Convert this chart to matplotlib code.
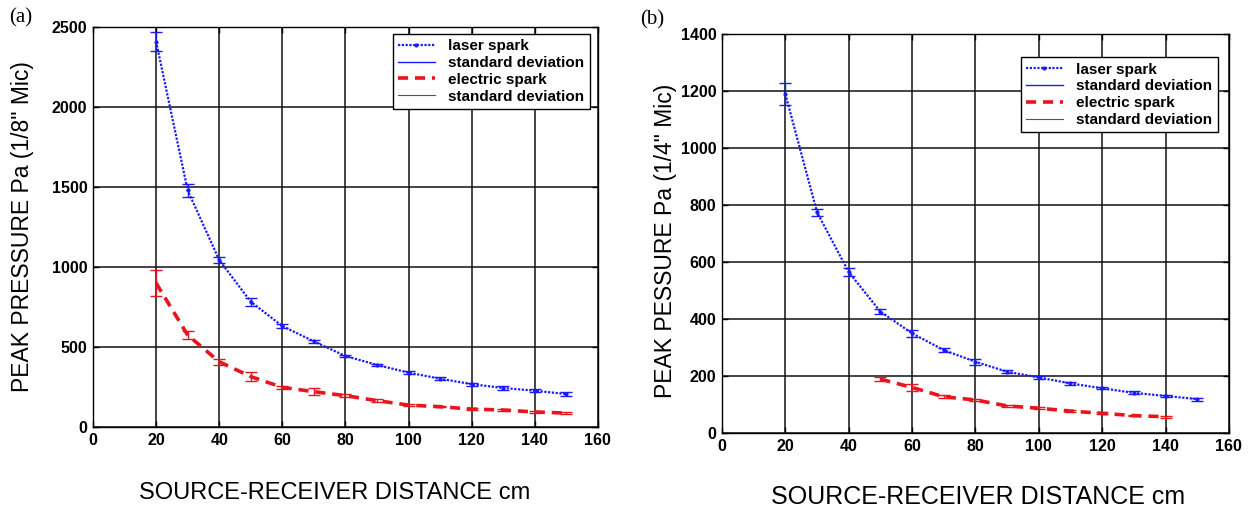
import matplotlib
matplotlib.use("Agg")
import matplotlib.pyplot as plt
from matplotlib.lines import Line2D

plt.rcParams["font.family"] = ["Liberation Sans", "DejaVu Sans"]

# panel (a), 1/8" mic
dist_a = [20, 30, 40, 50, 60, 70, 80, 90, 100, 110, 120, 130, 140, 150]
laser_a = [2410, 1480, 1044, 783, 631, 535, 444, 388, 340, 302, 268, 244, 227, 206]
laser_a_sd = [60, 40, 20, 25, 15, 12, 8, 5, 8, 8, 10, 10, 8, 12]
elec_a = [900, 575, 408, 315, 248, 221, 196, 165, 137, 127, 112, 106, 94, 87]
elec_a_sd = [80, 25, 20, 30, 10, 20, 8, 8, 5, 5, 5, 8, 5, 5]

# panel (b), 1/4" mic
dist_b_laser = [20, 30, 40, 50, 60, 70, 80, 90, 100, 110, 120, 130, 140, 150]
laser_b = [1190, 775, 565, 426, 350, 291, 250, 215, 195, 174, 157, 141, 130, 119]
laser_b_sd = [38, 12, 15, 10, 12, 6, 10, 5, 4, 4, 4, 5, 4, 5]
dist_b_elec = [50, 60, 70, 80, 90, 100, 110, 120, 130, 140]
elec_b = [189, 160, 127, 116, 95, 87, 77, 69, 61, 57]
elec_b_sd = [6, 12, 5, 5, 5, 3, 4, 4, 3, 4]

xticks = [0, 20, 40, 60, 80, 100, 120, 140, 160]
yticks_a = [0, 500, 1000, 1500, 2000, 2500]
yticks_b = [0, 200, 400, 600, 800, 1000, 1200, 1400]

legend_labels = ["laser spark", "standard deviation", "electric spark", "standard deviation"]

BLUE = "#1a1aff"
RED = "#e8141e"
BLUE_LS = (0, (1.0, 0.7))
RED_LS = (0, (2.8, 1.9))


def draw_panel(ax, xl, yl, ysd, xe, ye, esd, yticks):
    ax.plot(xl, yl, color=BLUE, linestyle=BLUE_LS, linewidth=1.6,
            marker=".", markersize=4)
    ax.errorbar(xl, yl, yerr=ysd, fmt="none", ecolor=BLUE,
                elinewidth=1.0, capsize=4, capthick=1.0)
    ax.plot(xe, ye, color=RED, linestyle=RED_LS, linewidth=2.6)
    ax.errorbar(xe, ye, yerr=esd, fmt="none", ecolor=RED,
                elinewidth=1.0, capsize=4, capthick=1.0)

    ax.set_xlim(0, 160)
    ax.set_ylim(0, yticks[-1])
    ax.set_xticks(xticks)
    ax.set_yticks(yticks)
    ax.grid(True, color="#111111", linewidth=1.1)
    ax.set_axisbelow(True)
    ax.tick_params(direction="in", length=4, width=1, top=True, right=True,
                   labelsize=11.5, pad=4)
    for lab in ax.get_xticklabels() + ax.get_yticklabels():
        lab.set_fontweight("bold")
    for sp in ax.spines.values():
        sp.set_color("black")
        sp.set_linewidth(1.0)


def add_legend(ax, anchor):
    handles = [
        Line2D([], [], color=BLUE, linestyle=BLUE_LS, linewidth=1.6,
               marker=".", markersize=4),
        Line2D([], [], color=BLUE, linewidth=1.0),
        Line2D([], [], color=RED, linestyle=RED_LS, linewidth=2.6),
        Line2D([], [], color=RED, linewidth=0.8),
    ]
    leg = ax.legend(handles, legend_labels, loc="upper right", bbox_to_anchor=anchor,
                    borderaxespad=0, fancybox=False, framealpha=1, edgecolor="black",
                    prop={"weight": "bold", "size": 11}, handlelength=2.4,
                    labelspacing=0.18, borderpad=0.35, handletextpad=0.9)
    leg.get_frame().set_linewidth(1.0)


fig = plt.figure(figsize=(12.48, 5.12), dpi=100)
axA = fig.add_axes([0.0745, 0.166, 0.4046, 0.781])
axB = fig.add_axes([0.5785, 0.1543, 0.4062, 0.779])

draw_panel(axA, dist_a, laser_a, laser_a_sd, dist_a, elec_a, elec_a_sd, yticks_a)
draw_panel(axB, dist_b_laser, laser_b, laser_b_sd, dist_b_elec, elec_b, elec_b_sd, yticks_b)
add_legend(axA, (0.984, 0.983))
add_legend(axB, (0.978, 0.942))

fig.text(0.018, 0.557, "PEAK PRESSURE Pa (1/8\" Mic)", rotation=90, fontsize=16.5,
         ha="center", va="center")
fig.text(0.533, 0.53, "PEAK PESSURE Pa (1/4\" Mic)", rotation=90, fontsize=16.5,
         ha="center", va="center")
fig.text(0.268, 0.037, "SOURCE-RECEIVER DISTANCE cm", fontsize=17,
         ha="center", va="center")
fig.text(0.784, 0.029, "SOURCE-RECEIVER DISTANCE cm", fontsize=18,
         ha="center", va="center")
fig.text(0.007, 0.965, "(a)", fontsize=15, family="Liberation Serif",
         ha="left", va="center")
fig.text(0.513, 0.961, "(b)", fontsize=15, family="Liberation Serif",
         ha="left", va="center")

fig.savefig("out.png", dpi=100)
